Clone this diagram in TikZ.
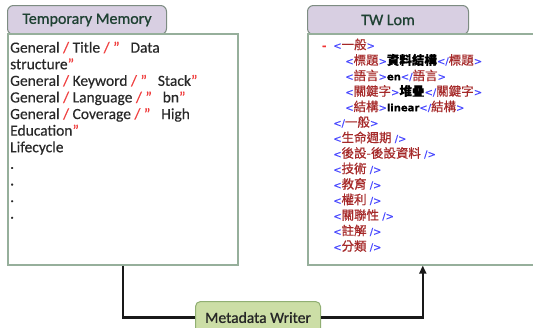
\documentclass[tikz,border=0pt]{standalone}
\usepackage{fontspec}
\setmainfont{Carlito}[FakeBold=0.3]
\newfontfamily\labelfont{Carlito}[FakeBold=0.9]
\newfontfamily\xmlfont{DejaVu Sans}[FakeBold=0.3]
\newfontfamily\cjkfont{Noto Sans CJK TC}[FakeBold=0.6]
\usetikzlibrary{arrows.meta}

\definecolor{tabfill}{RGB}{216,207,226}
\definecolor{tabdraw}{RGB}{125,140,130}
\definecolor{tabtext}{RGB}{30,65,50}
\definecolor{boxdraw}{RGB}{150,175,155}
\definecolor{mwfill}{RGB}{204,222,166}
\definecolor{mwdraw}{RGB}{145,175,115}
\definecolor{memtext}{RGB}{40,40,40}
\definecolor{sepred}{RGB}{240,60,60}
\definecolor{xmlblue}{RGB}{70,70,255}
\definecolor{xmlred}{RGB}{165,40,40}
\definecolor{minusred}{RGB}{240,50,50}

% memory-entry helpers
\newcommand\rsl{{\color{sepred}/}}
\newcommand\rqt{{\color{sepred}”}}
% XML view helpers
\newcommand\zh[1]{{\cjkfont\fontsize{12.5}{15.5}\selectfont #1}}
\newcommand\xo[1]{{\color{xmlblue}<}{\color{xmlred}\zh{#1}}{\color{xmlblue}>}}
\newcommand\xc[1]{{\color{xmlblue}</}{\color{xmlred}\zh{#1}}{\color{xmlblue}>}}
\newcommand\xe[1]{{\color{xmlblue}<}{\color{xmlred}\zh{#1}}{\color{xmlblue}\ />}}

\begin{document}
\begin{tikzpicture}[x=1pt,y=-1pt,
  tabbox/.style={draw=tabdraw, fill=tabfill, line width=1pt, rounded corners=6pt,
    anchor=north west, minimum height=29pt, inner sep=0pt, text=tabtext,
    font=\labelfont\fontsize{16}{18}\selectfont},
  panel/.style={draw=boxdraw, fill=white, line width=1.6pt, anchor=north west,
    minimum width=230pt, minimum height=231pt, inner sep=0pt},
  writer/.style={draw=mwdraw, fill=mwfill, line width=1pt, rounded corners=5pt,
    anchor=north west, minimum width=125pt, minimum height=32pt, inner sep=0pt,
    font=\labelfont\fontsize{15.6}{18}\selectfont, text=black!85},
  conn/.style={line width=2.3pt, black!90}
]
\useasboundingbox (0,0) rectangle (533,327);
\clip (0,0) rectangle (533,327);

% left column: temporary memory
\node[tabbox, minimum width=159pt] (ltab) at (7,5) {Temporary Memory};
\node[panel] (lbox) at (7,33) {};
\node[anchor=north west, align=left, inner sep=0pt, text=memtext,
  font=\fontsize{15.5}{16.6}\selectfont] (ltext) at (10,41.5) {%
General \rsl{} Title \rsl{} \rqt\hspace{0.7em}Data\\
structure\rqt\\
General \rsl{} Keyword \rsl{} \rqt\hspace{0.7em}Stack\rqt\\
General \rsl{} Language \rsl{} \rqt\hspace{0.7em}bn\rqt\\
General \rsl{} Coverage \rsl{} \rqt\hspace{0.7em}High\\
Education\rqt\\
Lifecycle\\
.\\
.\\
.\\
.};

% right column: TW LOM record
\node[tabbox, minimum width=161pt] (rtab) at (307,5) {TW Lom};
\node[panel] (rbox) at (307,33) {};
\node[anchor=north west, align=left, inner sep=0pt,
  font=\xmlfont\fontsize{10}{15.5}\selectfont] (rtext) at (322,38.5) {%
\makebox[11pt][l]{\color{minusred}\bfseries -}\xo{一般}\\
\hspace*{23pt}\xo{標題}\textbf{\zh{資料結構}}\xc{標題}\\
\hspace*{23pt}\xo{語言}\textbf{en}\xc{語言}\\
\hspace*{23pt}\xo{關鍵字}\textbf{\zh{堆疊}}\xc{關鍵字}\\
\hspace*{23pt}\xo{結構}\textbf{linear}\xc{結構}\\
\hspace*{11pt}\xc{一般}\\
\hspace*{11pt}\xe{生命週期}\\
\hspace*{11pt}\xe{後設-後設資料}\\
\hspace*{11pt}\xe{技術}\\
\hspace*{11pt}\xe{教育}\\
\hspace*{11pt}\xe{權利}\\
\hspace*{11pt}\xe{關聯性}\\
\hspace*{11pt}\xe{註解}\\
\hspace*{11pt}\xe{分類}};

% writer and data flow
\node[writer] (mw) at (195,301) {Metadata Writer};
\draw[conn] (lbox.south) |- (mw.west);
\draw[conn, -{Triangle[length=8pt,width=7pt]}] (mw.east) -| (rbox.south);
\end{tikzpicture}
\end{document}
